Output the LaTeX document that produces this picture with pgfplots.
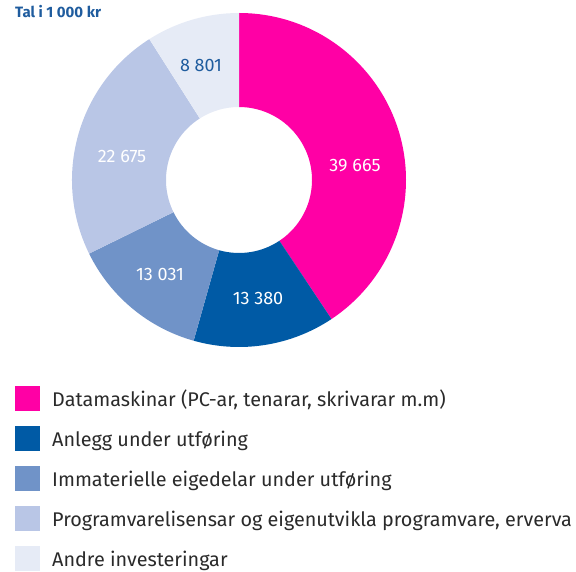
\documentclass[border=0pt]{standalone}
\usepackage{pgfplots}
\pgfplotsset{compat=1.18}
\usepackage{pgfplotstable}
\usepackage{fontspec}
\setmainfont{Fira Sans}
\usetikzlibrary{calc}
\definecolor{cA}{HTML}{FF00A5}
\definecolor{cB}{HTML}{005AA5}
\definecolor{cC}{HTML}{7093C8}
\definecolor{cD}{HTML}{B9C6E6}
\definecolor{cE}{HTML}{E6EBF6}
\definecolor{titleblue}{HTML}{1F5C9E}
\definecolor{txt}{HTML}{2A2A2A}

\pgfplotstableread{
idx value
0 39665
1 13380
2 13031
3 22675
4 8801
}\datatable

% total and cumulative angles (clockwise from the top)
\def\total{0}
\foreach \i in {0,...,4}{%
  \pgfplotstablegetelem{\i}{value}\of\datatable
  \xdef\total{\fpeval{\total+\pgfplotsretval}}}
\def\cum{0}
\foreach \i in {0,...,4}{%
  \pgfplotstablegetelem{\i}{value}\of\datatable
  \expandafter\xdef\csname angS\i\endcsname{\fpeval{90-360*\cum/\total}}%
  \xdef\cum{\fpeval{\cum+\pgfplotsretval}}%
  \expandafter\xdef\csname angE\i\endcsname{\fpeval{90-360*\cum/\total}}}

\def\cx{239}
\def\cy{-180}
\newcommand\wedgeseg[2]{%
  \fill[#2] ($(axis cs:\cx,\cy)+(\csname angS#1\endcsname:167pt)$)
    arc[start angle=\csname angS#1\endcsname, end angle=\csname angE#1\endcsname, radius=167pt]
    -- ($(axis cs:\cx,\cy)+(\csname angE#1\endcsname:73pt)$)
    arc[start angle=\csname angE#1\endcsname, end angle=\csname angS#1\endcsname, radius=73pt]
    -- cycle;}
\newcommand\legkey[3]{%
  \fill[#2] (axis cs:15,{-(#1-12.5)}) rectangle (axis cs:40,{-(#1+12.5)});
  \node[anchor=base west, inner sep=0pt, text=txt, font=\fontsize{19.8}{21}\selectfont] at (axis cs:52,{-(#1+8.2)}) {#3};}

\begin{document}
\begin{tikzpicture}
\begin{axis}[
  scale only axis, width=576pt, height=571pt,
  xmin=0, xmax=576, ymin=-571, ymax=0,
  hide axis, clip=false]
\path (rel axis cs:0,0) rectangle (rel axis cs:1,1);
\wedgeseg{0}{cA}
\wedgeseg{1}{cB}
\wedgeseg{2}{cC}
\wedgeseg{3}{cD}
\wedgeseg{4}{cE}
\node[anchor=base west, inner sep=0pt, text=titleblue, font=\fontsize{15}{17}\selectfont\bfseries] at (axis cs:15,-18) {Tal i 1 000 kr};
\begin{scope}[every node/.style={font=\fontsize{18}{20}\selectfont, inner sep=0pt}]
\node[text=white] at (axis cs:355,-166) {39 665};
\node[text=white] at (axis cs:258,-298) {13 380};
\node[text=white] at (axis cs:160,-274) {13 031};
\node[text=white] at (axis cs:122,-156) {22 675};
\node[text=titleblue] at (axis cs:201,-66) {8 801};
\end{scope}
\legkey{398.5}{cA}{Datamaskinar (PC-ar, tenarar, skrivarar m.m)}
\legkey{438.5}{cB}{Anlegg under utføring}
\legkey{478.5}{cC}{Immaterielle eigedelar under utføring}
\legkey{518.5}{cD}{Programvarelisensar og eigenutvikla programvare, erverva}
\legkey{558.5}{cE}{Andre investeringar}
\end{axis}
\end{tikzpicture}
\end{document}
